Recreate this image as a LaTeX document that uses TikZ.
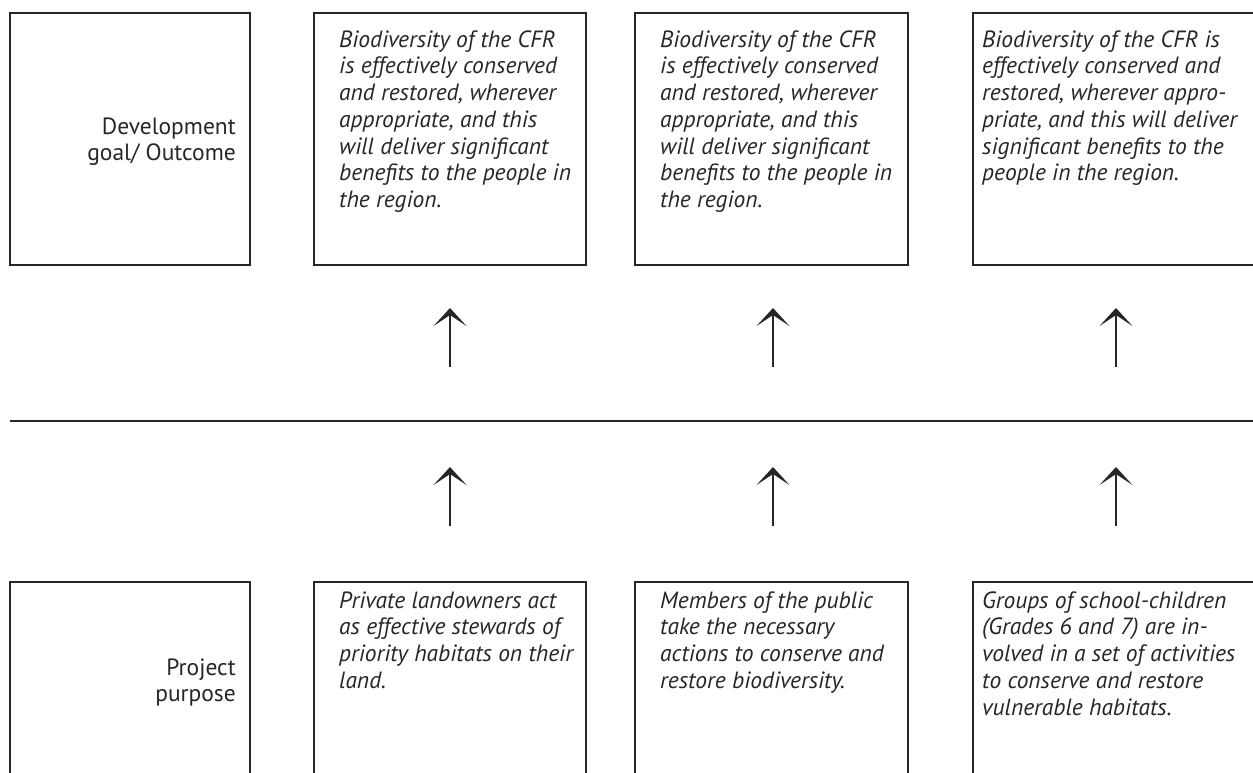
\documentclass[tikz,border=0pt]{standalone}
\usepackage{fontspec}
\setmainfont{PT Sans}
\usetikzlibrary{arrows.meta}
\definecolor{ink}{HTML}{262626}
\tikzset{
  frame/.style={draw=ink, line width=1.7pt},
  txt/.style={anchor=north west, inner sep=0pt, align=left, text=ink,
    font=\fontsize{23.5}{26.7}\selectfont\itshape, execute at begin node=\strut},
  lbl/.style={anchor=north east, inner sep=0pt, align=right, text=ink,
    font=\fontsize{23.5}{26.7}\selectfont, execute at begin node=\strut},
  uparrow/.style={draw=ink, line width=1.8pt, -{Stealth[length=18pt,width=33pt,inset=11pt]}},
}
\begin{document}
\begin{tikzpicture}[x=1pt,y=-1pt]
\useasboundingbox (0,0) rectangle (1253,772);
\clip (0,0) rectangle (1253,772);
% top row boxes
\draw[frame] (10,13) rectangle (250,265);
\draw[frame] (314,13) rectangle (586,265);
\draw[frame] (635,13) rectangle (908,265);
\draw[frame] (973,13) rectangle (1270,265);
% separator
\coordinate (sepL) at (10,421);
\coordinate (sepR) at (1260,421);
\draw[draw=ink, line width=1.8pt] (sepL) -- (sepR);
% bottom row boxes
\draw[frame] (10,582) rectangle (250,800);
\draw[frame] (314,582) rectangle (586,800);
\draw[frame] (635,582) rectangle (908,800);
\draw[frame] (973,582) rectangle (1270,800);
% labels (strut height = 0.7*26.7 = 18.69)
\node[lbl] (devlbl) at (236,136-18.69) {Development\\goal/ Outcome};
\node[lbl] (projlbl) at (236,677-18.69) {Project\\purpose};
% top texts
\node[txt] (g1) at (339,49-18.69) {Biodiversity of the CFR\\is effectively conserved\\and restored, wherever\\appropriate, and this\\will deliver significant\\benefits to the people in\\the region.};
\node[txt] (g2) at (660,49-18.69) {Biodiversity of the CFR\\is effectively conserved\\and restored, wherever\\appropriate, and this\\will deliver significant\\benefits to the people in\\the region.};
\node[txt] (g3) at (982,49-18.69) {Biodiversity of the CFR is\\effectively conserved and\\restored, wherever appro-\\priate, and this will deliver\\significant benefits to the\\people in the region.};
% bottom texts
\node[txt] (p1) at (339,610-18.69) {Private landowners act\\as effective stewards of\\priority habitats on their\\land.};
\node[txt] (p2) at (660,610-18.69) {Members of the public\\take the necessary\\actions to conserve and\\restore biodiversity.};
\node[txt] (p3) at (982,610-18.69) {Groups of school-children\\(Grades 6 and 7) are in-\\volved in a set of activities\\to conserve and restore\\vulnerable habitats.};
% arrows
\foreach \n/\x in {a/450,b/773,c/1116}{
  \coordinate (\n t1) at (\x,367);
  \coordinate (\n h1) at (\x,308);
  \coordinate (\n t2) at (\x,526);
  \coordinate (\n h2) at (\x,467);
  \draw[uparrow] (\n t1) -- (\n h1);
  \draw[uparrow] (\n t2) -- (\n h2);
}
\end{tikzpicture}
\end{document}
